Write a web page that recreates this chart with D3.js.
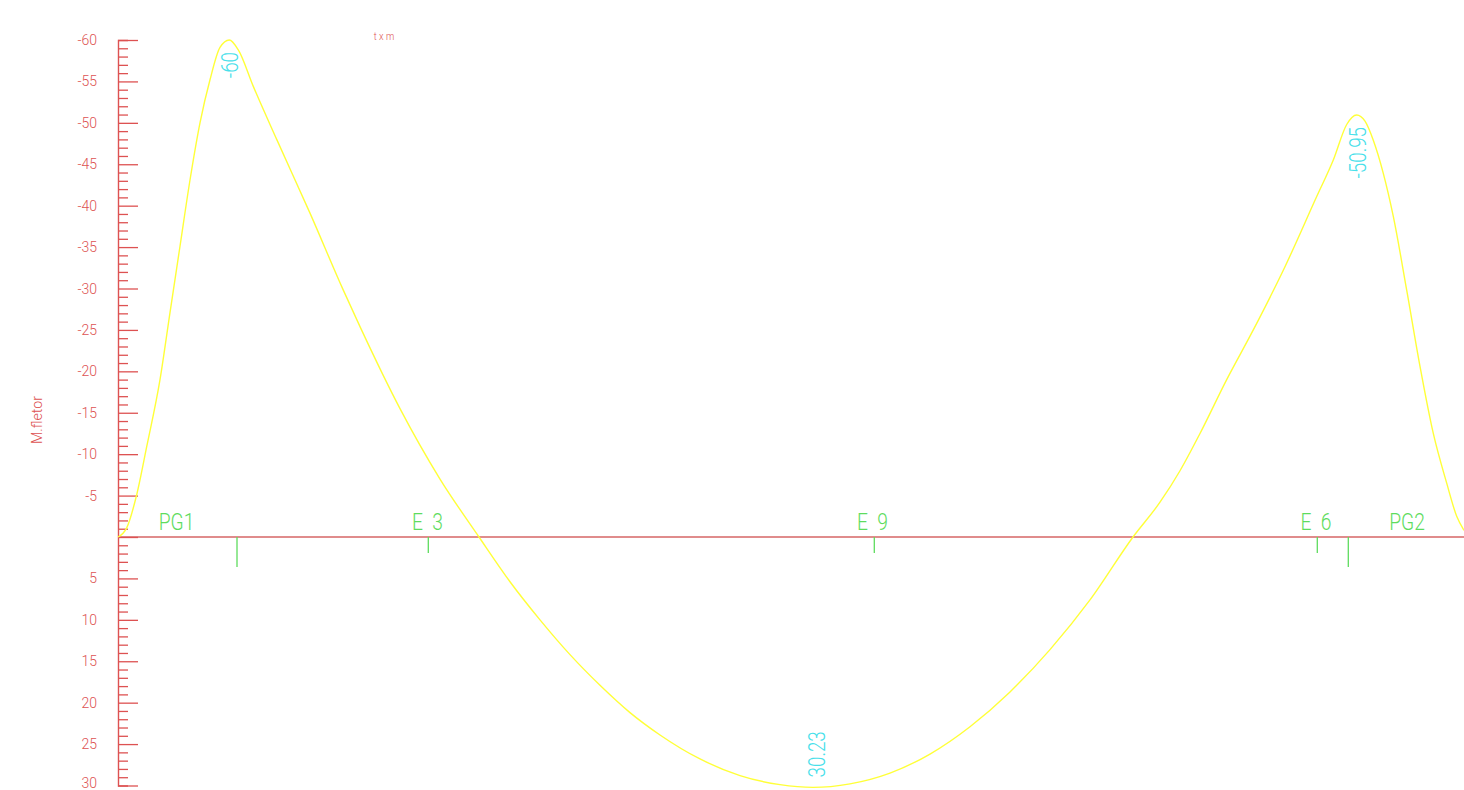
<!DOCTYPE html>
<html><head><meta charset="utf-8">
<script src="https://cdn.jsdelivr.net/npm/d3@7/dist/d3.min.js"></script>
<style>
html,body{margin:0;padding:0;background:#fff;overflow:hidden}
svg{display:block}
text{font-family:Roboto,"DejaVu Sans",sans-serif;font-weight:300;white-space:pre}
</style></head><body>
<svg id="chart" width="1464" height="790"></svg>
<script>
// Beam positions (m) and bending moment (t x m); negative plotted upward
const positions = [0.00,0.087,0.187,0.287,0.42,0.52,0.62,0.72,0.82,0.92,1.02,1.113,1.203,1.353,1.587,1.92,2.253,2.42,2.82,3.22,3.61,
  3.92,4.22,4.52,4.82,5.12,5.42,5.82,6.22,6.62,6.95,7.32,7.72,8.12,8.52,8.92,9.32,9.72,10.15,
  10.42,10.62,10.82,11.087,11.353,11.653,11.987,12.153,12.287,12.387,12.47,12.553,12.653,12.753,12.887,13.02,13.153,13.287,13.387,13.46];
const moments = [0,-1.1,-5.1,-10.9,-19.0,-27.1,-35.1,-43.1,-50.0,-55.2,-59.1,-60.0,-58.8,-54.4,-48.0,-39.1,-29.8,-25.4,-15.5,-7.0,0,
  5.4,10.0,14.2,17.9,21.2,23.9,26.8,28.8,29.9,30.23,29.8,28.5,26.2,22.9,18.7,13.6,7.6,0,
  -4.2,-8.0,-12.5,-19.0,-25.0,-32.2,-41.1,-45.5,-49.8,-50.95,-50.2,-47.9,-43.9,-38.7,-29.8,-20.6,-12.5,-6.5,-2.5,-0.8];

const supportNames = ["PG1","E  3","E  9","E  6","PG2"];
const supportPos   = [1.19, 3.103, 7.563, 11.993, 12.303];
const supportKind  = ["pilar","estaca","estaca","estaca","pilar"];
const labelPos     = [0.585, 3.095, 7.545, 11.98, 12.89];

const peakLabels = ["-60","-50.95","30.23"];
const peakPos    = [1.123, 12.40, 6.99];
const peakVal    = [-60, -50.95, 30.23];

const yTicks = d3.range(-60, 31, 1);
const yTickLabels = [-60,-55,-50,-45,-40,-35,-30,-25,-20,-15,-10,-5,5,10,15,20,25,30];

const svg = d3.select("#chart");
const x = d3.scaleLinear().domain([0, 13.46]).range([118, 1464]);
const y = d3.scaleLinear().domain([-60, 30]).range([40, 785.5]);

const RED = "#dd5252", AXISPINK = "#e08c8c", YEL = "#ffff38", CYAN = "#48e0ea", GREEN = "#5edc5e";

function cadText(g, str, px, py, size, sx, color, anchor, rot) {
  return g.append("text")
    .attr("transform", `translate(${px},${py})` + (rot ? ` rotate(${rot})` : "") + ` scale(${sx},1)`)
    .attr("font-size", size).attr("fill", color).attr("text-anchor", anchor || "start")
    .text(str);
}

// horizontal zero line
svg.append("line").attr("x1", x(0)).attr("x2", 1464).attr("y1", y(0)).attr("y2", y(0))
  .attr("stroke", AXISPINK).attr("stroke-width", 2);

// y axis via d3.axisRight
const yAxis = d3.axisRight(y).tickValues(yTicks).tickFormat("").tickSizeOuter(0).tickSize(10);
const gy = svg.append("g").attr("transform", `translate(${x(0)},0)`).call(yAxis);
gy.select(".domain").attr("stroke", RED).attr("stroke-width", 1.4);
gy.selectAll(".tick line").attr("stroke", RED).attr("stroke-width", 1.3)
  .attr("x2", d => (d % 5 === 0 ? 20 : 10));

// tick labels
const gl = svg.append("g");
yTickLabels.forEach(v => {
  cadText(gl, String(v), 97, Math.min(y(v) + 5, 788), 14, 1.0, RED, "end");
});

// axis title & unit
cadText(svg, "M.fletor", 42, 420, 15, 0.95, RED, "middle", -90);
cadText(svg, "t x m", 384, 40, 11, 0.85, RED, "middle");

// curve
const pts = positions.map((p, i) => [p, moments[i]]);
svg.append("path").datum(pts)
  .attr("d", d3.line().x(d => x(d[0])).y(d => y(d[1])).curve(d3.curveMonotoneX))
  .attr("fill", "none").attr("stroke", YEL).attr("stroke-width", 1.4);

// supports
supportPos.forEach((p, i) => {
  const len = supportKind[i] === "pilar" ? 30 : 16;
  svg.append("line").attr("x1", x(p)).attr("x2", x(p)).attr("y1", y(0)).attr("y2", y(0) + len)
    .attr("stroke", GREEN).attr("stroke-width", 1.3);
  cadText(svg, supportNames[i], x(labelPos[i]), y(0) - 7, 23.5, 0.82, GREEN, "middle");
});

// peak labels
peakLabels.forEach((s, i) => {
  const v = peakVal[i];
  if (v < 0) {
    cadText(svg, s, x(peakPos[i]) + 8, y(v) + 12, 23.5, 0.8, CYAN, "end", -90);
  } else {
    cadText(svg, s, x(peakPos[i]) + 8, y(v) - 10, 23.5, 0.8, CYAN, "start", -90);
  }
});
</script>
</body></html>
